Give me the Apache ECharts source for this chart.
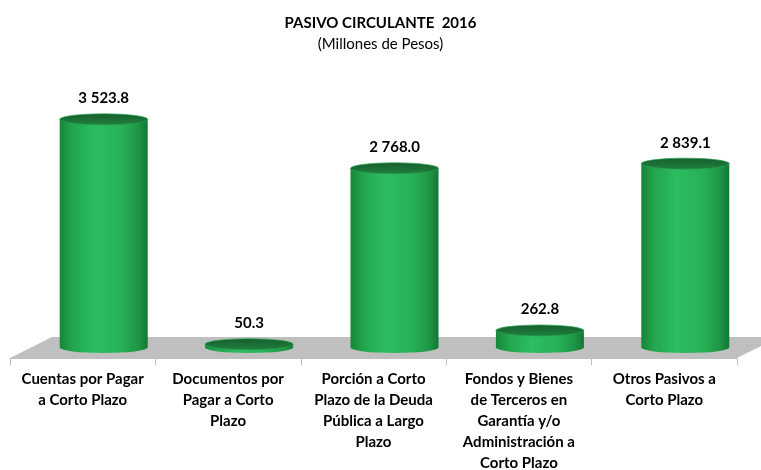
<!DOCTYPE html>
<html>
<head>
<meta charset="utf-8">
<script src="https://cdn.jsdelivr.net/npm/echarts@6/dist/echarts.min.js"></script>
<style>
  html, body { margin: 0; padding: 0; background: #fff; }
  #main { width: 761px; height: 470px; }
</style>
</head>
<body>
<div id="main"></div>
<script>
// categories and values (Millones de Pesos)
var categorias = [
  'Cuentas por Pagar\na Corto Plazo',
  'Documentos por\nPagar a Corto\nPlazo',
  'Porción a Corto\nPlazo de la Deuda\nPública a Largo\nPlazo',
  'Fondos y Bienes\nde Terceros en\nGarantía y/o\nAdministración a\nCorto Plazo',
  'Otros Pasivos a\nCorto Plazo'
];
var valores = [3523.8, 50.3, 2768.0, 262.8, 2839.1];

var FONT = 'Lato, "Open Sans", sans-serif';
var DX = 21, DY = -10.5;   // half of floor depth
var RX = 44, RY = 5.5;

function formato(v) {
  var p = v.toFixed(1).split('.');
  return p[0].replace(/\B(?=(\d{3})+(?!\d))/g, ' ') + '.' + p[1];
}

var myChart = echarts.init(document.getElementById('main'));

var option = {
  backgroundColor: '#ffffff',
  animation: false,
  title: {
    text: 'PASIVO CIRCULANTE  2016',
    subtext: '(Millones de Pesos)',
    left: 'center',
    top: 11,
    itemGap: 6,
    textStyle: { fontFamily: FONT, fontSize: 15, fontWeight: 'bold', color: '#000' },
    subtextStyle: { fontFamily: FONT, fontSize: 15, color: '#000' }
  },
  grid: { left: 10, right: 24, top: 99, bottom: 112, outerBoundsMode: 'none' },
  xAxis: {
    type: 'category',
    data: categorias,
    axisLine: { lineStyle: { color: '#bfbfbf' } },
    axisTick: { show: true, length: 7, lineStyle: { color: '#bfbfbf' } },
    axisLabel: {
      interval: 0,
      margin: 11,
      fontFamily: FONT,
      fontSize: 15,
      fontWeight: 'bold',
      color: '#000',
      lineHeight: 21
    }
  },
  yAxis: {
    type: 'value',
    min: 0,
    max: 4000,
    show: false,
    splitLine: { show: false }
  },
  series: [
    {
      // piso gris
      type: 'custom',
      z: 1,
      silent: true,
      data: [[0, 0]],
      renderItem: function (params, api) {
        var cs = params.coordSys;
        var yb = cs.y + cs.height;
        return {
          type: 'polygon',
          shape: {
            points: [
              [cs.x, yb],
              [cs.x + cs.width, yb],
              [cs.x + cs.width + 2 * DX, yb + 2 * DY],
              [cs.x + 2 * DX, yb + 2 * DY]
            ]
          },
          style: { fill: '#bfbfbf' }
        };
      }
    },
    {
      type: 'custom',
      z: 2,
      data: valores.map(function (v, i) { return [i, v]; }),
      renderItem: function (params, api) {
        var base = api.coord([api.value(0), 0]);
        var top = api.coord([api.value(0), api.value(1)]);
        var x = base[0] + DX;
        var yb = base[1] + DY;
        var yt = top[1] + DY;
        var side = 'M' + (x - RX) + ' ' + yt +
          ' L' + (x - RX) + ' ' + yb +
          ' A' + RX + ' ' + RY + ' 0 0 0 ' + (x + RX) + ' ' + yb +
          ' L' + (x + RX) + ' ' + yt + ' Z';
        var cap = 'M' + (x - RX) + ' ' + yt +
          ' A' + RX + ' ' + RY + ' 0 1 0 ' + (x + RX) + ' ' + yt +
          ' A' + RX + ' ' + RY + ' 0 1 0 ' + (x - RX) + ' ' + yt + ' Z';
        return {
          type: 'group',
          children: [
            {
              type: 'path',
              shape: { pathData: side },
              style: {
                fill: new echarts.graphic.LinearGradient(0, 0, 1, 0, [
                  { offset: 0, color: '#168638' },
                  { offset: 0.15, color: '#22a64d' },
                  { offset: 0.4, color: '#2cbd5f' },
                  { offset: 0.7, color: '#27b156' },
                  { offset: 0.9, color: '#1d9445' },
                  { offset: 1, color: '#137834' }
                ])
              }
            },
            {
              type: 'path',
              shape: { pathData: cap },
              style: {
                fill: new echarts.graphic.LinearGradient(0, 0, 0, 1, [
                  { offset: 0, color: '#155e2c' },
                  { offset: 1, color: '#21803f' }
                ]),
                stroke: '#26a04f',
                lineWidth: 0.7
              }
            },
            {
              type: 'text',
              x: x,
              y: yt - 21,
              style: {
                text: formato(api.value(1)),
                align: 'center',
                verticalAlign: 'middle',
                fontFamily: FONT,
                fontSize: 15,
                fontWeight: 'bold',
                fill: '#000'
              }
            }
          ]
        };
      }
    }
  ]
};

myChart.setOption(option);
window.addEventListener('resize', myChart.resize);
</script>
</body>
</html>
